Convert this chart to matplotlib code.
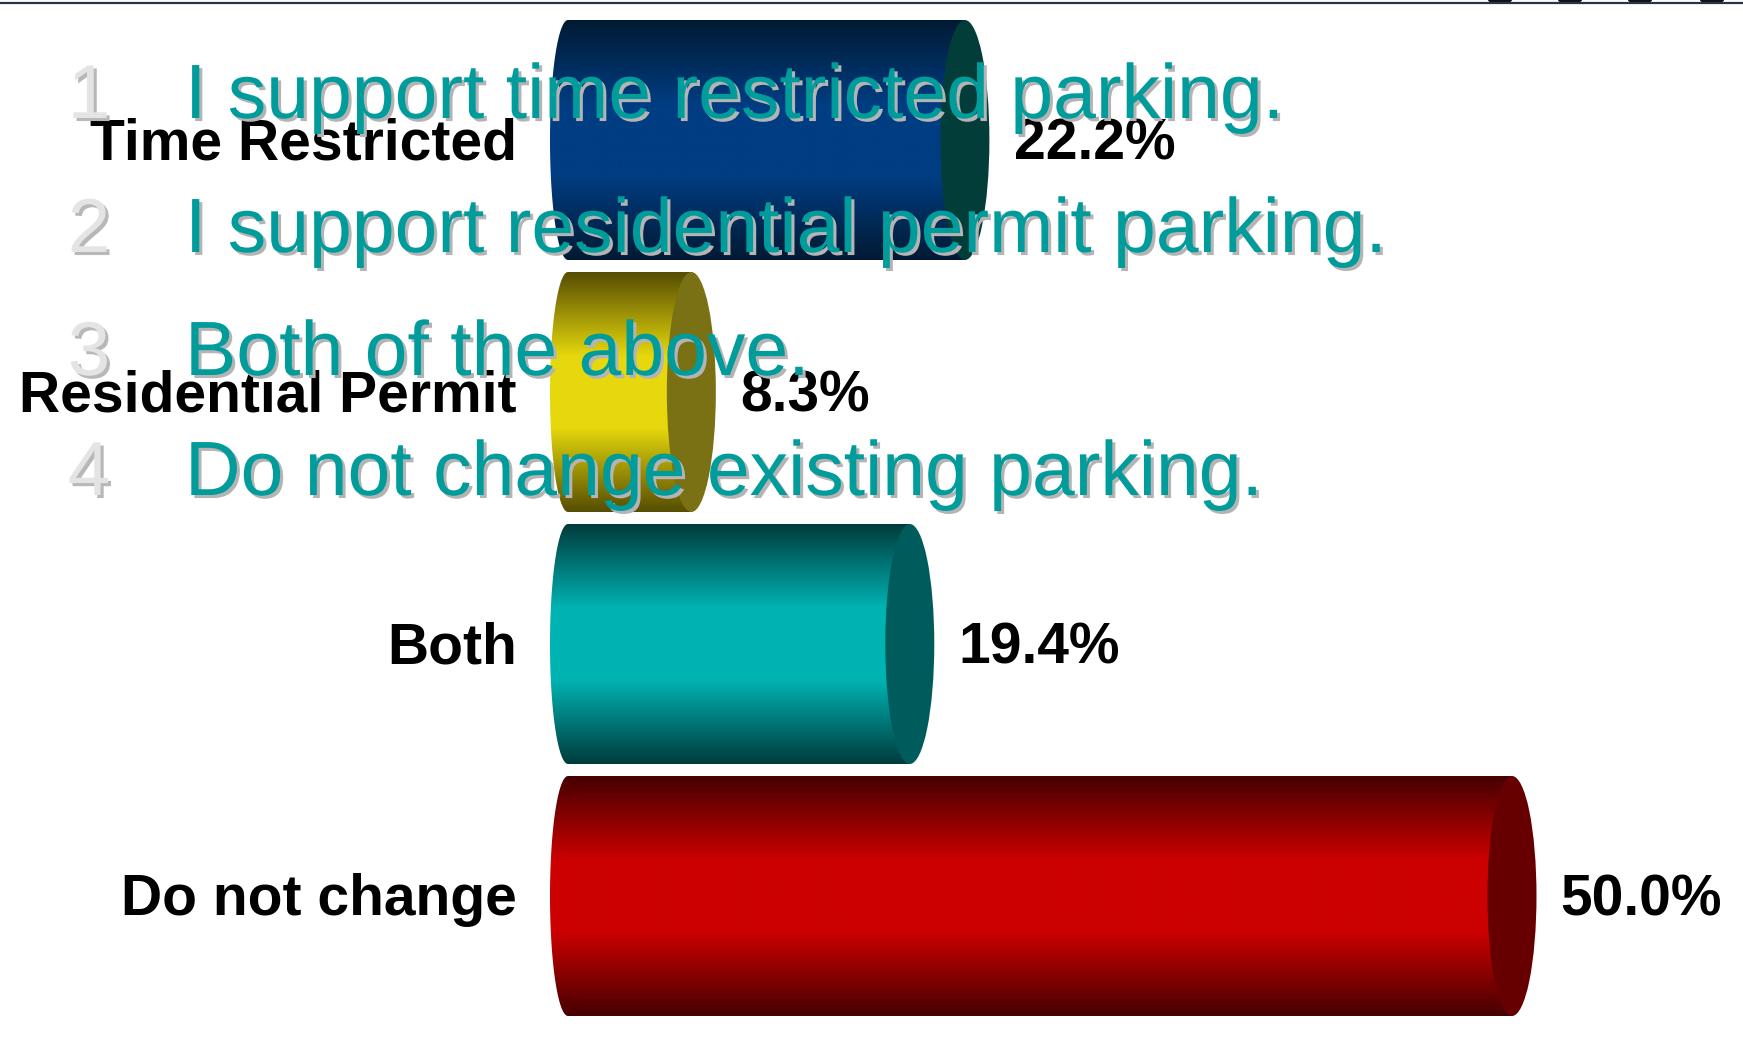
import numpy as np
import matplotlib.pyplot as plt
import matplotlib.patheffects as pe
from matplotlib.patches import Ellipse, PathPatch
from matplotlib.path import Path
from matplotlib.lines import Line2D
from matplotlib import transforms

plt.rcParams['font.family'] = ['Liberation Sans', 'DejaVu Sans']

# survey results
categories = ["Time Restricted", "Residential Permit", "Both", "Do not change"]
shares = [22.2, 8.3, 19.4, 50.0]
options = ["I support time restricted parking.",
           "I support residential permit parking.",
           "Both of the above.",
           "Do not change existing parking."]

# (edge shade, highlight, end cap) for each cylinder
palette = [
    ("#021a33", "#003d82", "#033d3a"),
    ("#564d02", "#e6d80c", "#7a7014"),
    ("#003c3c", "#00b3b3", "#005c5c"),
    ("#460000", "#cc0000", "#660000"),
]

W, H = 1743, 1061
PX_PER_PCT = 19.68       # pixels per percentage point
ZERO_PX = 528            # pixel column of 0 %
ROW0_PX, ROW_PX = 140, 252
BAR_H = 240 / ROW_PX
START = 40 / PX_PER_PCT  # left end of every cylinder
BULGE = 18 / PX_PER_PCT
CAP_W = 49 / PX_PER_PCT

fig = plt.figure(figsize=(W / 100, H / 100), dpi=100)
ax = fig.add_axes([0, 0, 1, 1])
ax.axis('off')

t = np.linspace(0, 1, 256)
shade = np.clip((1 - np.abs(t - 0.5) * 2) / 0.7, 0, 1)

for i, (val, (dark, bright, cap)) in enumerate(zip(shares, palette)):
    top, bot = i - BAR_H / 2, i + BAR_H / 2
    theta = np.linspace(np.pi / 2, 3 * np.pi / 2, 60)
    arc = np.column_stack([START + BULGE * np.cos(theta), i + BAR_H / 2 * np.sin(theta)])
    verts = np.vstack([[(START, top), (val, top), (val, bot), (START, bot)], arc, [(START, top)]])
    body = PathPatch(Path(verts), facecolor='none', edgecolor='none', transform=ax.transData)
    ax.add_patch(body)

    c0 = np.array(plt.matplotlib.colors.to_rgb(dark))
    c1 = np.array(plt.matplotlib.colors.to_rgb(bright))
    grad = c0 + (c1 - c0) * shade[:, None]
    img = ax.imshow(grad[:, None, :], aspect='auto', origin='upper',
                    extent=(START - BULGE, val, bot, top), interpolation='bilinear', zorder=2)
    img.set_clip_path(body)

    ax.add_patch(Ellipse((val, i), CAP_W, BAR_H, facecolor=cap, edgecolor='none', zorder=3))

    lbl = transforms.offset_copy(ax.transData, fig=fig, x=0, y=-13.7, units='points')
    ax.text(-0.56, i, categories[i], transform=lbl, ha='right', va='baseline',
            fontsize=41, fontweight='bold', color='black', zorder=4)
    vl = transforms.offset_copy(ax.transData, fig=fig, x=35, y=-13.7, units='points')
    ax.text(val, i, f"{val:.1f}%", transform=vl, ha='left', va='baseline',
            fontsize=41, fontweight='bold', color='black', zorder=4)

ax.set_xlim(-ZERO_PX / PX_PER_PCT, (W - ZERO_PX) / PX_PER_PCT)
ax.set_ylim((H - ROW0_PX) / ROW_PX, -ROW0_PX / ROW_PX)

# numbered answer choices laid over the chart
baselines = [118, 252, 375, 495]
teal_shadow = [pe.withSimplePatchShadow(offset=(2.2, -2.2), shadow_rgbFace='#b4b4b4', alpha=1.0)]
num_shadow = [pe.withSimplePatchShadow(offset=(2.2, -2.2), shadow_rgbFace='#b8b8b8', alpha=1.0)]
for k, (opt, yb) in enumerate(zip(options, baselines)):
    fig.text(89 / W, 1 - yb / H, str(k + 1), ha='center', va='baseline',
             fontsize=55, color='#e4e4e4', path_effects=num_shadow, zorder=5)
    fig.text(185 / W, 1 - yb / H, opt, ha='left', va='baseline',
             fontsize=55.4, color='#009b9b', path_effects=teal_shadow, zorder=6)

# window edge along the top
fig.add_artist(Line2D([0, 1], [1 - 3 / H, 1 - 3 / H], color='#2b3447', lw=1.6,
                      transform=fig.transFigure))
for bx in [1500, 1570, 1640, 1712]:
    fig.add_artist(Ellipse((bx / W, 1.0), 24 / W, 8 / H, facecolor='#111111',
                           edgecolor='none', transform=fig.transFigure))

fig.savefig("out.png", dpi=100)
